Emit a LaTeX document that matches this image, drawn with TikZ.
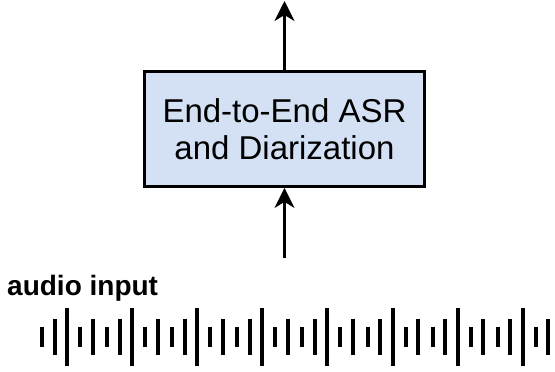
\documentclass[tikz,border=0pt]{standalone}
\usepackage{fontspec}
\setmainfont{Liberation Sans}
\usetikzlibrary{arrows.meta}
\definecolor{boxfill}{RGB}{212,225,245}
\tikzset{
  blockbox/.style={draw=black, line width=2.8pt, fill=boxfill, minimum width=280pt, minimum height=115pt, inner sep=0pt, align=center, font=\fontsize{33}{37}\selectfont},
  flow/.style={line width=2.6pt, -{Stealth[length=20pt, width=20pt, inset=6pt]}},
  wbar/.style={line width=4pt},
  label/.style={font=\bfseries\fontsize{28}{32}\selectfont, anchor=base west, inner sep=0pt}
}
\begin{document}
\begin{tikzpicture}[x=1pt, y=-1pt]
\useasboundingbox (0,0) rectangle (555,372);
\node[blockbox] (asr) at (284.5,129) {End-to-End ASR\\and Diarization};
\coordinate (out) at (284.5,1);
\coordinate (in) at (284.5,258);
\draw[flow] (asr.north) -- (out);
\draw[flow] (in) -- (asr.south);
\node[label] (lbl) at (7,295) {audio input};
\foreach \k in {0,...,7} {
  \pgfmathsetmacro\t{67+65.1*\k}
  \draw[wbar] (\t,308) -- (\t,366);
  \draw[wbar] ({\t+13},327) -- ({\t+13},347);
  \draw[wbar] ({\t+25.5},319) -- ({\t+25.5},355);
  \draw[wbar] ({\t-25},327) -- ({\t-25},347);
  \draw[wbar] ({\t-12.5},319) -- ({\t-12.5},355);
}
\end{tikzpicture}
\end{document}
